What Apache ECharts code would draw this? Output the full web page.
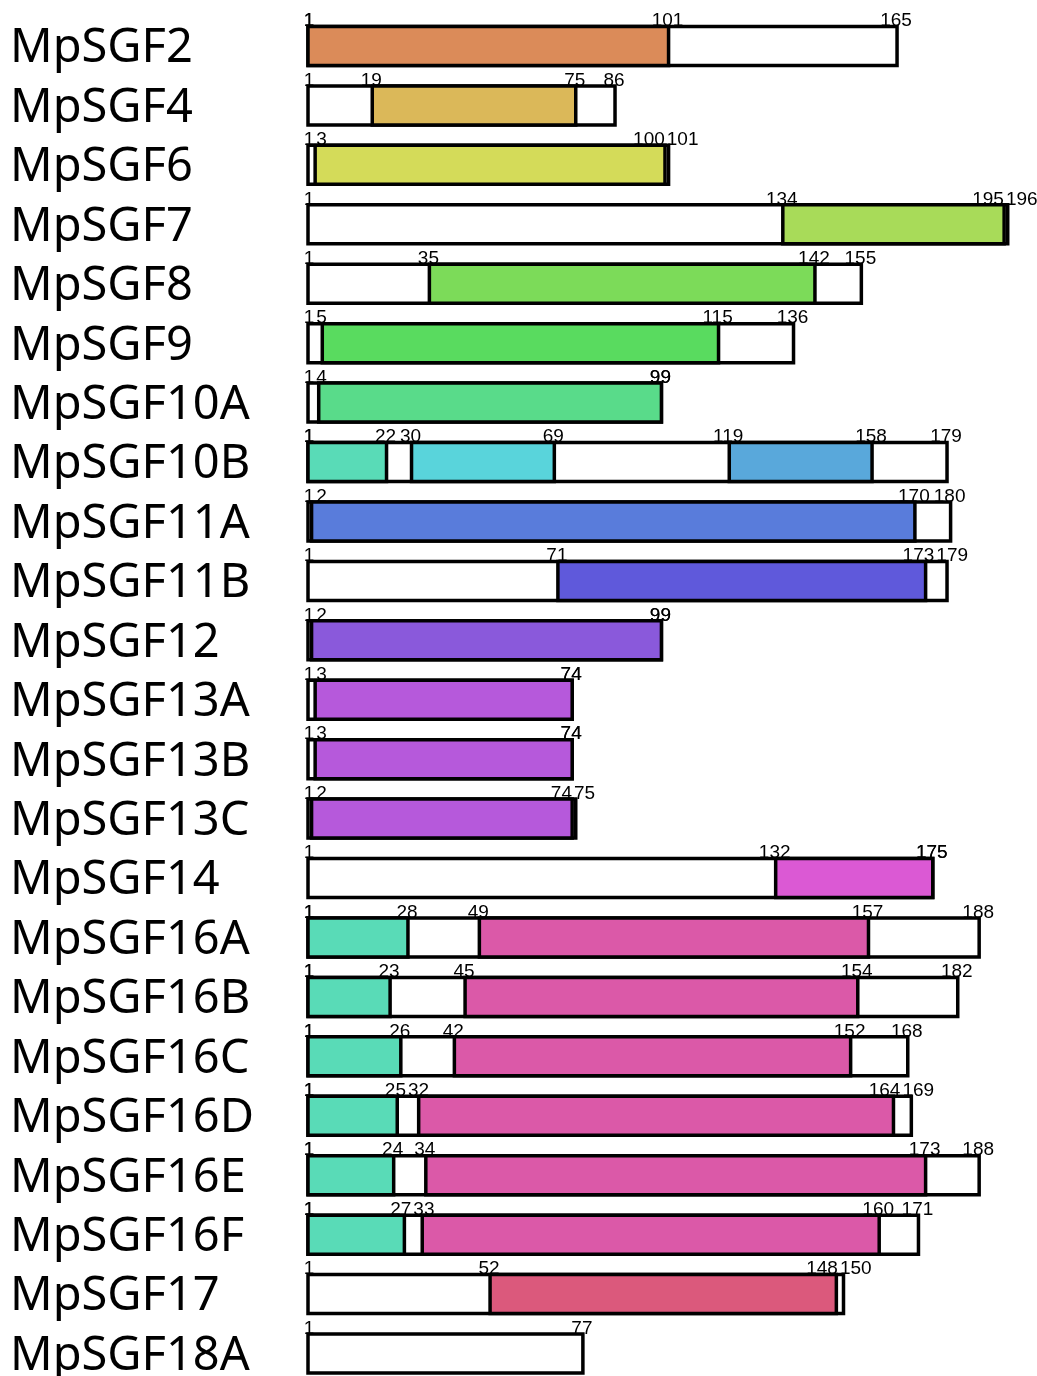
<!DOCTYPE html>
<html>
<head>
<meta charset="utf-8">
<script src="https://cdn.jsdelivr.net/npm/echarts@6/dist/echarts.min.js"></script>
<style>
html,body{margin:0;padding:0;background:#fff;}
#main{width:1037px;height:1376px;}
</style>
</head>
<body>
<div id="main"></div>
<script>
// ---- data ----
const names = ['MpSGF2','MpSGF4','MpSGF6','MpSGF7','MpSGF8','MpSGF9','MpSGF10A','MpSGF10B','MpSGF11A','MpSGF11B','MpSGF12','MpSGF13A','MpSGF13B','MpSGF13C','MpSGF14','MpSGF16A','MpSGF16B','MpSGF16C','MpSGF16D','MpSGF16E','MpSGF16F','MpSGF17','MpSGF18A'];
const lengths = [165,86,101,196,155,136,99,179,180,179,99,74,74,75,175,188,182,168,169,188,171,150,77];
const domainRow   = [0,1,2,3,4,5,6, 7,7,7, 8,9,10,11,12,13,14, 15,15,16,16,17,17,18,18,19,19,20,20, 21];
const domainStart = [1,19,3,134,35,5,4, 1,30,119, 2,71,2,3,3,2,132, 1,49,1,45,1,42,1,32,1,34,1,33, 52];
const domainEnd   = [101,75,100,195,142,115,99, 22,69,158, 170,173,99,74,74,74,175, 28,157,23,154,26,152,25,164,24,173,27,160, 148];
const domainFamily = ['SGF2','SGF4','SGF6','SGF7','SGF8','SGF9','SGF10A','Nterm','SGF10B1','SGF10B2','SGF11A','SGF11B','SGF12','SGF13','SGF13','SGF13','SGF14','Nterm','SGF16','Nterm','SGF16','Nterm','SGF16','Nterm','SGF16','Nterm','SGF16','Nterm','SGF16','SGF17'];

// ---- styles ----
const familyColor = {
  SGF2:'#DB8B59', SGF4:'#DBB859', SGF6:'#D4DB59', SGF7:'#A8DB59', SGF8:'#7CDB59', SGF9:'#59DB5F',
  SGF10A:'#59DB8A', Nterm:'#59DBB7', SGF10B1:'#59D4DB', SGF10B2:'#59A8DB', SGF11A:'#597CDB',
  SGF11B:'#5F59DB', SGF12:'#8A59DB', SGF13:'#B659DB', SGF14:'#DB59D4', SGF16:'#DB59A8', SGF17:'#DB597C'
};
const HALF = 19.5;
const LW = 3.5;
const NUM_FONT = '19px "Liberation Sans", Arial, sans-serif';
const measureCtx = document.createElement('canvas').getContext('2d');
measureCtx.font = NUM_FONT;

const chart = echarts.init(document.getElementById('main'));

function rowLabels(row, api) {
  const items = [{v:1, at:0}];
  for (let k = 0; k < domainRow.length; k++) {
    if (domainRow[k] !== row) continue;
    items.push({v:domainStart[k], at:domainStart[k]-1});
    items.push({v:domainEnd[k], at:domainEnd[k]});
  }
  items.push({v:lengths[row], at:lengths[row]});
  const seen = {};
  const uniq = [];
  items.forEach(it => { if (seen[it.v] === undefined) { seen[it.v] = uniq.length; uniq.push({v:it.v, at:it.at, n:1}); } else uniq[seen[it.v]].n++; });
  uniq.sort((a,b)=>a.at-b.at);
  uniq.forEach((u, i) => { u.c = api.coord([u.at, row])[0] + (i === 0 ? 1 : -1); u.w = measureCtx.measureText(String(u.v)).width; });
  const gap = 2;
  for (let pass = 0; pass < 6; pass++) {
    for (let i = 0; i + 1 < uniq.length; i++) {
      const a = uniq[i], b = uniq[i+1];
      const d = (a.c + a.w/2 + gap) - (b.c - b.w/2);
      if (d > 0) {
        if (i === 0) { b.c += d; }
        else { a.c -= d/2; b.c += d/2; }
      }
    }
  }
  return uniq;
}

const option = {
  animation: false,
  grid: {left:308, right:15, top:46, bottom:22.5},
  xAxis: {type:'value', min:0, max:200, show:false},
  yAxis: {type:'value', min:0, max:22, inverse:true, show:false},
  series: [
    {
      type:'custom', clip:false,
      data: lengths.map((L,i)=>[i, L]),
      renderItem: function(params, api) {
        const row = api.value(0), L = api.value(1);
        const p0 = api.coord([0, row]), p1 = api.coord([L, row]);
        return {type:'rect', shape:{x:p0[0], y:p0[1]-HALF, width:p1[0]-p0[0], height:HALF*2},
                style:{fill:'#ffffff', stroke:'#000000', lineWidth:LW}};
      }
    },
    {
      type:'custom', clip:false,
      data: domainRow.map((r,k)=>[r, domainStart[k]-1, domainEnd[k], k]),
      renderItem: function(params, api) {
        const row = api.value(0), s = api.value(1), e = api.value(2), k = api.value(3);
        const p0 = api.coord([s, row]), p1 = api.coord([e, row]);
        return {type:'rect', shape:{x:p0[0], y:p0[1]-HALF, width:p1[0]-p0[0], height:HALF*2},
                style:{fill:familyColor[domainFamily[k]], stroke:'#000000', lineWidth:LW}};
      }
    },
    {
      type:'custom', clip:false,
      data: names.map((n,i)=>[i]),
      renderItem: function(params, api) {
        const row = api.value(0);
        const y = api.coord([0, row])[1] - HALF + 4;
        const labs = rowLabels(row, api);
        const children = [];
        labs.forEach(u => {
          for (let t = 0; t < u.n; t++) {
            children.push({type:'text', x:u.c, y:y,
              style:{text:String(u.v), font:NUM_FONT, fill:'#000', align:'center', verticalAlign:'bottom'}});
          }
        });
        return {type:'group', children:children};
      }
    },
    {
      type:'custom', clip:false,
      data: names.map((n,i)=>[i]),
      renderItem: function(params, api) {
        const row = api.value(0);
        const y = api.coord([0, row])[1] + 3;
        return {type:'text', x:10, y:y,
          style:{text:names[row], font:'47px "Noto Sans", sans-serif', fill:'#000', align:'left', verticalAlign:'middle'}};
      }
    }
  ]
};
chart.setOption(option);
</script>
</body>
</html>
